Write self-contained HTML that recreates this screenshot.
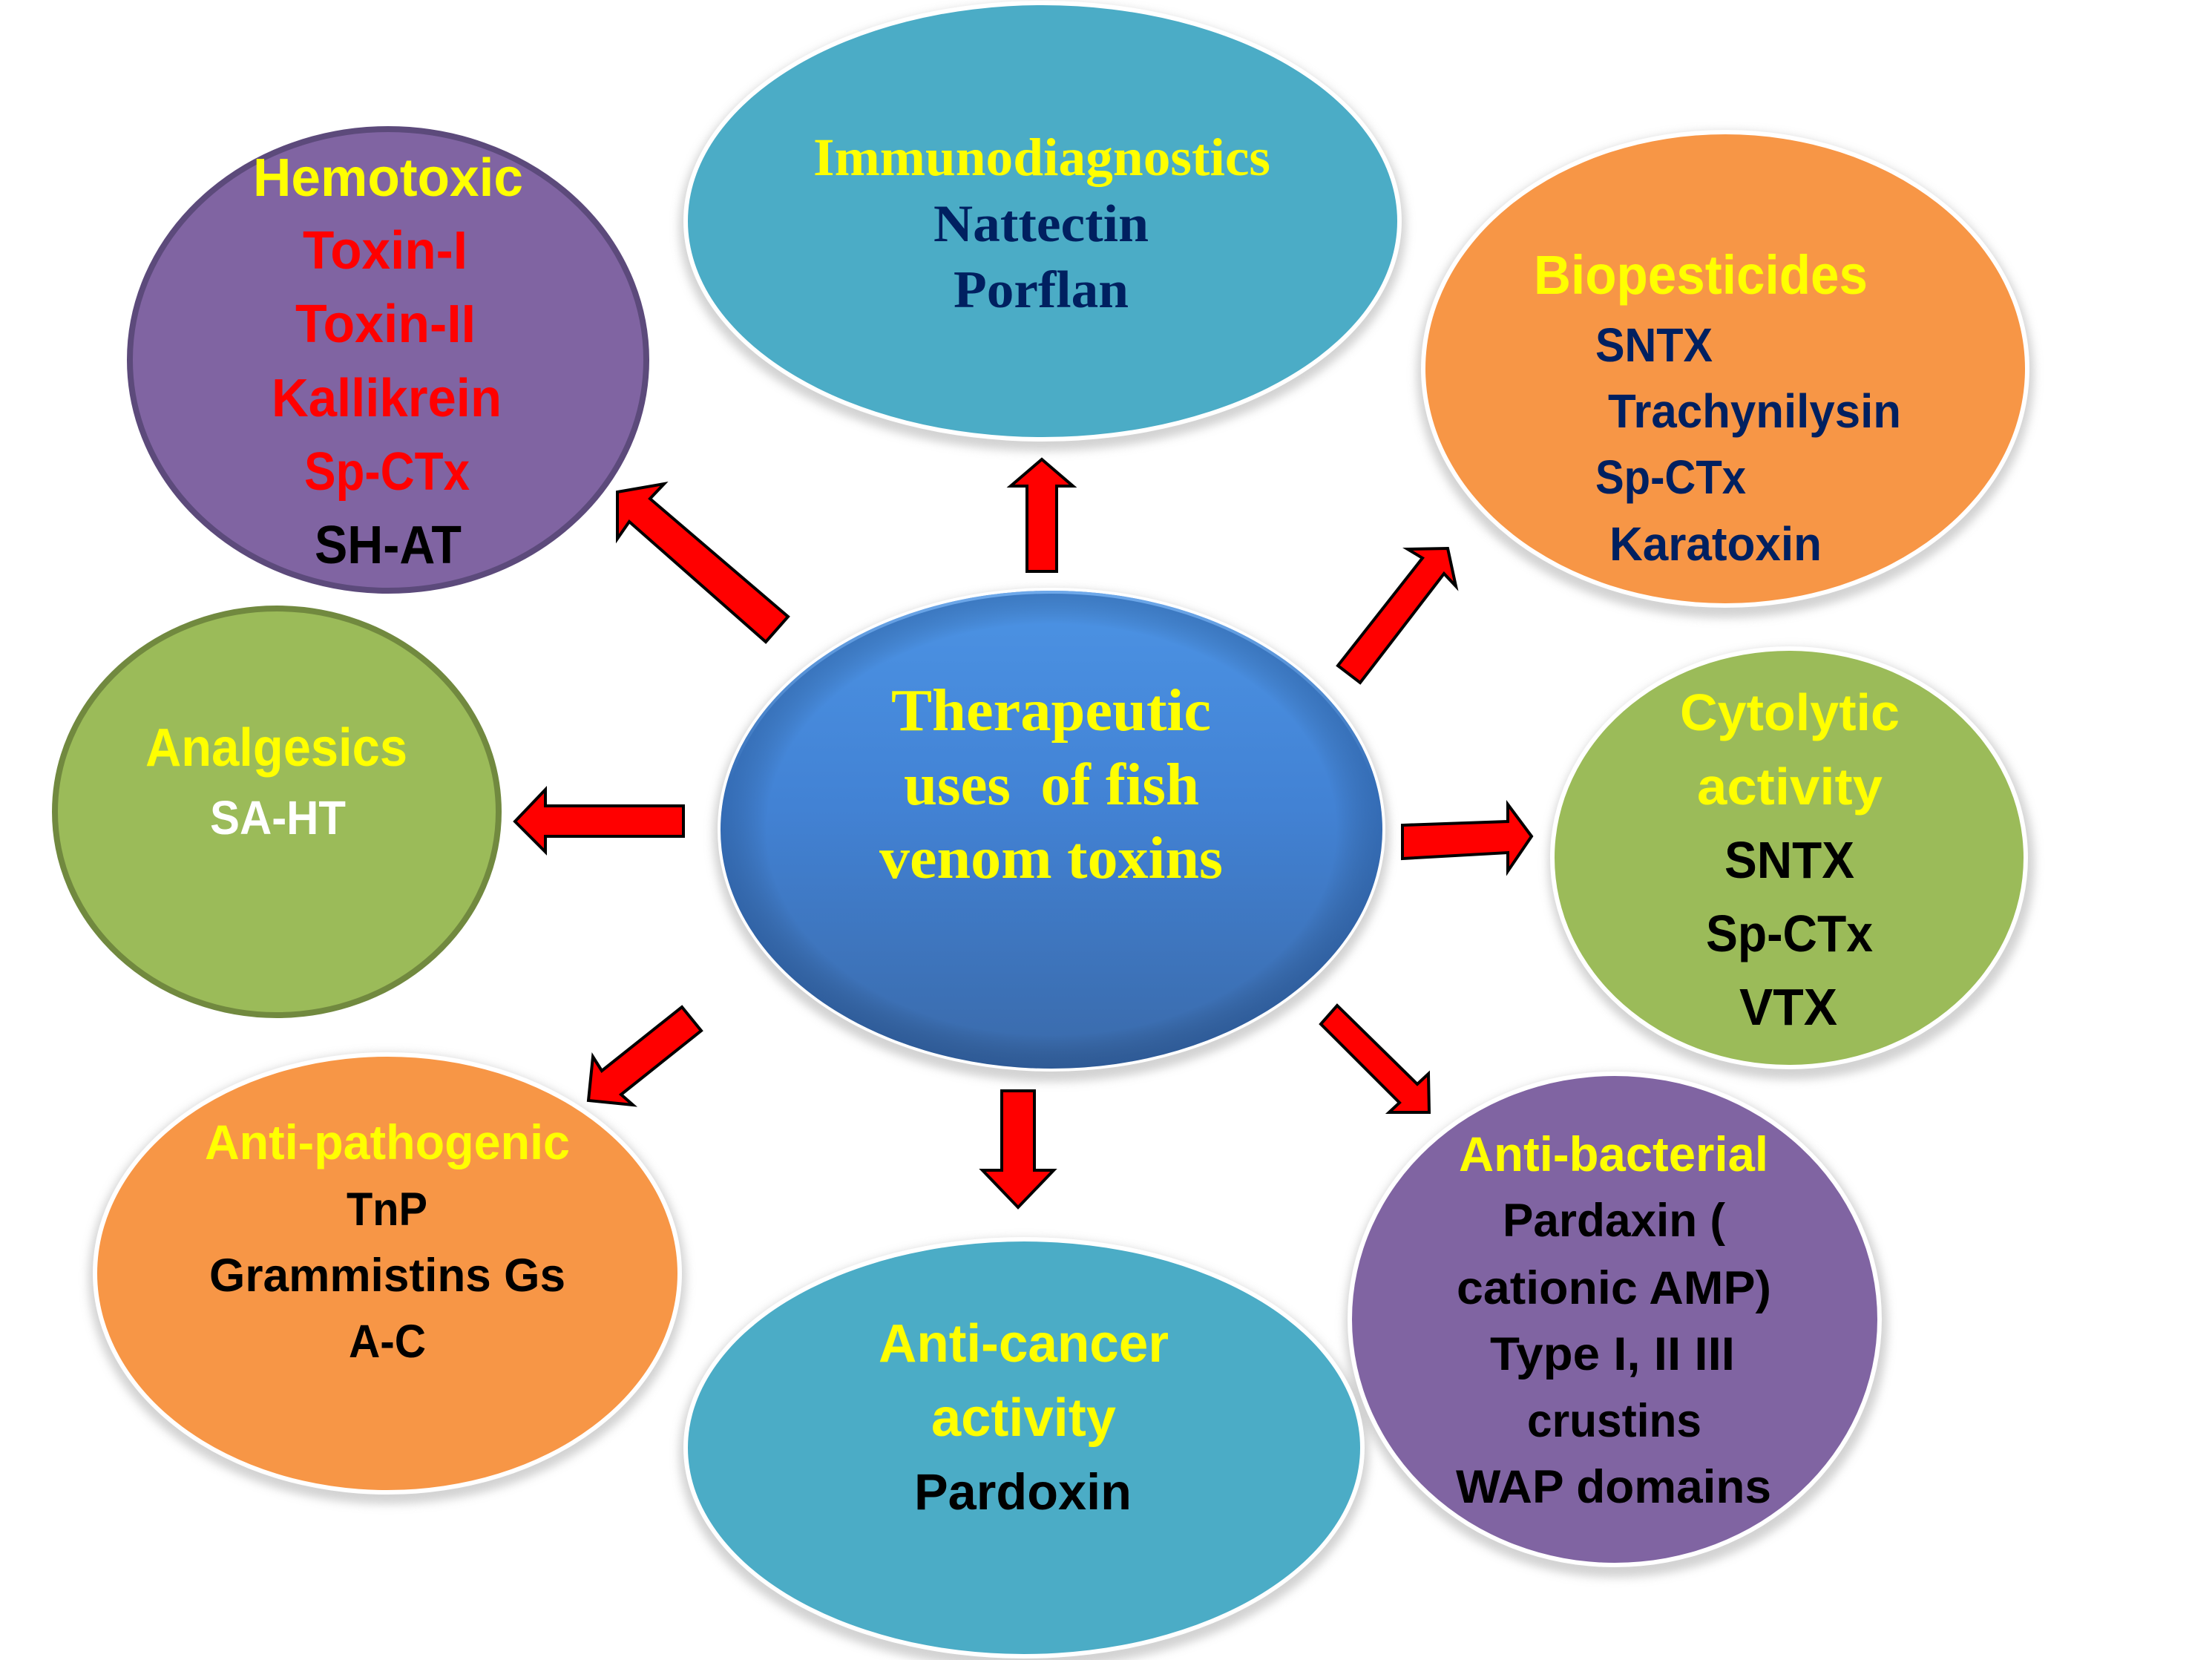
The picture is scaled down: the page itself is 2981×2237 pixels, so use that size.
<!DOCTYPE html>
<html>
<head>
<meta charset="utf-8">
<style>
  html, body { margin: 0; padding: 0; background: #ffffff; }
  svg { display: block; }
  .s { font-family: "Liberation Sans", "DejaVu Sans", sans-serif; font-weight: bold; }
  .t { font-family: "Liberation Serif", "DejaVu Serif", serif; font-weight: bold; }
</style>
</head>
<body>
<svg width="2981" height="2237" viewBox="0 0 2981 2237" xmlns="http://www.w3.org/2000/svg">
  <defs>
    <filter id="blur" x="-20%" y="-20%" width="140%" height="140%">
      <feGaussianBlur stdDeviation="6"/>
    </filter>
    <linearGradient id="cg" x1="0" y1="0" x2="0" y2="1">
      <stop offset="0" stop-color="#4c93e4"/>
      <stop offset="0.45" stop-color="#4282d4"/>
      <stop offset="1" stop-color="#3a6aaa"/>
    </linearGradient>
    <radialGradient id="cedge" cx="0.5" cy="0.5" r="0.5">
      <stop offset="0.86" stop-color="#000" stop-opacity="0"/>
      <stop offset="1" stop-color="#0a2a5a" stop-opacity="0.25"/>
    </radialGradient>
    <linearGradient id="rim" x1="0" y1="0" x2="0" y2="1">
      <stop offset="0" stop-color="#7ab4f4" stop-opacity="0.8"/>
      <stop offset="0.4" stop-color="#7ab4f4" stop-opacity="0"/>
      <stop offset="1" stop-color="#7ab4f4" stop-opacity="0"/>
    </linearGradient>
  </defs>

  <rect width="2981" height="2237" fill="#ffffff"/>

  <!-- Shadows -->
  <g fill="#c4c4c4" opacity="0.75" filter="url(#blur)">
    <ellipse cx="1405" cy="306" rx="490" ry="302"/>
    <ellipse cx="2325" cy="505" rx="416" ry="328"/>
    <ellipse cx="2414" cy="1164" rx="328" ry="291"/>
    <ellipse cx="2178" cy="1786" rx="366" ry="340"/>
    <ellipse cx="1380" cy="1959" rx="465" ry="290"/>
    <ellipse cx="522" cy="1723" rx="403" ry="304"/>
    <ellipse cx="1417" cy="1126" rx="456" ry="332"/>
  </g>
  <!-- White rims -->
  <g fill="#ffffff">
    <ellipse cx="1405" cy="298" rx="484" ry="297"/>
    <ellipse cx="2325" cy="497" rx="410" ry="322"/>
    <ellipse cx="2411" cy="1156" rx="322" ry="285"/>
    <ellipse cx="2176" cy="1778" rx="360" ry="334"/>
    <ellipse cx="1380" cy="1951" rx="459" ry="284"/>
    <ellipse cx="522" cy="1716" rx="397" ry="298"/>
    <ellipse cx="1417" cy="1118" rx="450" ry="326"/>
  </g>

  <!-- Ellipses -->
  <ellipse cx="523" cy="485" rx="348" ry="311" fill="#8064a2" stroke="#5c4a7b" stroke-width="8"/>
  <ellipse cx="1405" cy="298" rx="478" ry="291" fill="#4bacc6"/>
  <ellipse cx="2325" cy="497" rx="404" ry="316" fill="#f79646"/>
  <ellipse cx="2411" cy="1156" rx="316" ry="279" fill="#9bbb59"/>
  <ellipse cx="2176" cy="1778" rx="354" ry="328" fill="#8064a2"/>
  <ellipse cx="1380" cy="1951" rx="453" ry="278" fill="#4bacc6"/>
  <ellipse cx="522" cy="1716" rx="391" ry="292" fill="#f79646"/>
  <ellipse cx="373" cy="1094" rx="299" ry="274" fill="#9bbb59" stroke="#71893f" stroke-width="8"/>

  <!-- Center -->
  <ellipse cx="1417" cy="1118" rx="446" ry="322" fill="url(#cg)"/>
  <ellipse cx="1417" cy="1118" rx="446" ry="322" fill="url(#cedge)"/>
  <ellipse cx="1417" cy="1116" rx="443" ry="318" fill="none" stroke="url(#rim)" stroke-width="4"/>

  <!-- Arrows -->
  <g fill="#ff0000" stroke="#000000" stroke-width="4" stroke-linejoin="miter">
    <polygon points="1404,619 1446,655 1424,655 1424,770 1384,770 1384,655 1362,655"/>
    <polygon points="694,1107 735,1064 735,1086 921,1086 921,1127 735,1127 735,1148"/>
    <polygon points="2064,1127 2032,1084 2032,1107 1890,1112 1890,1157 2032,1149 2032,1174"/>
    <polygon points="1350,1470 1394,1470 1394,1577 1420,1577 1372,1627 1324,1577 1350,1577"/>
    <polygon points="832,663 895,652 876,672 1062,831 1032,865 848,703 832,726"/>
    <polygon points="1951,739 1962,790 1946,773 1833,920 1803,897 1917,752 1897,740"/>
    <polygon points="793,1483 799,1424 811,1443 919,1357 945,1389 837,1475 853,1489"/>
    <polygon points="1926,1499 1872,1499 1886,1486 1780,1380 1802,1355 1910,1461 1925,1447"/>
  </g>

  <!-- Hemotoxic -->
  <g class="s" font-size="72">
    <text x="341" y="264" textLength="364" lengthAdjust="spacingAndGlyphs" fill="#ffff00">Hemotoxic</text>
    <text x="408" y="362" textLength="222" lengthAdjust="spacingAndGlyphs" fill="#ff0000">Toxin-I</text>
    <text x="398" y="461" textLength="243" lengthAdjust="spacingAndGlyphs" fill="#ff0000">Toxin-II</text>
    <text x="366" y="561" textLength="310" lengthAdjust="spacingAndGlyphs" fill="#ff0000">Kallikrein</text>
    <text x="410" y="660" textLength="223" lengthAdjust="spacingAndGlyphs" fill="#ff0000">Sp-CTx</text>
    <text x="424" y="759" textLength="198" lengthAdjust="spacingAndGlyphs" fill="#000000">SH-AT</text>
  </g>

  <!-- Immunodiagnostics -->
  <g class="t">
    <text x="1096" y="236" font-size="72" textLength="616" lengthAdjust="spacingAndGlyphs" fill="#ffff00">Immunodiagnostics</text>
    <text x="1258" y="325" font-size="71" textLength="290" lengthAdjust="spacingAndGlyphs" fill="#002060">Nattectin</text>
    <text x="1285" y="414" font-size="71" textLength="236" lengthAdjust="spacingAndGlyphs" fill="#002060">Porflan</text>
  </g>

  <!-- Biopesticides -->
  <g class="s">
    <text x="2067" y="396" font-size="74" textLength="450" lengthAdjust="spacingAndGlyphs" fill="#ffff00">Biopesticides</text>
    <text x="2150" y="487" font-size="64" textLength="158" lengthAdjust="spacingAndGlyphs" fill="#002060">SNTX</text>
    <text x="2167" y="576" font-size="64" textLength="395" lengthAdjust="spacingAndGlyphs" fill="#002060">Trachynilysin</text>
    <text x="2150" y="665" font-size="64" textLength="203" lengthAdjust="spacingAndGlyphs" fill="#002060">Sp-CTx</text>
    <text x="2169" y="755" font-size="64" textLength="286" lengthAdjust="spacingAndGlyphs" fill="#002060">Karatoxin</text>
  </g>

  <!-- Cytolytic -->
  <g class="s" font-size="70">
    <text x="2264" y="984" textLength="296" lengthAdjust="spacingAndGlyphs" fill="#ffff00">Cytolytic</text>
    <text x="2287" y="1084" textLength="250" lengthAdjust="spacingAndGlyphs" fill="#ffff00">activity</text>
    <text x="2324" y="1183" textLength="175" lengthAdjust="spacingAndGlyphs" fill="#000000">SNTX</text>
    <text x="2299" y="1282" textLength="225" lengthAdjust="spacingAndGlyphs" fill="#000000">Sp-CTx</text>
    <text x="2344" y="1381" textLength="132" lengthAdjust="spacingAndGlyphs" fill="#000000">VTX</text>
  </g>

  <!-- Center text -->
  <g class="t" font-size="80" fill="#ffff00">
    <text x="1201" y="984" textLength="431" lengthAdjust="spacingAndGlyphs">Therapeutic</text>
    <text x="1218" y="1084" textLength="398" lengthAdjust="spacingAndGlyphs" style="white-space:pre" xml:space="preserve">uses  of fish</text>
    <text x="1185" y="1183" textLength="463" lengthAdjust="spacingAndGlyphs">venom toxins</text>
  </g>

  <!-- Analgesics -->
  <g class="s">
    <text x="196" y="1032" font-size="72" textLength="353" lengthAdjust="spacingAndGlyphs" fill="#ffff00">Analgesics</text>
    <text x="283" y="1124" font-size="64" textLength="183" lengthAdjust="spacingAndGlyphs" fill="#ffffff">SA-HT</text>
  </g>

  <!-- Anti-pathogenic -->
  <g class="s">
    <text x="276" y="1562" font-size="66" textLength="492" lengthAdjust="spacingAndGlyphs" fill="#ffff00">Anti-pathogenic</text>
    <text x="467" y="1651" font-size="63" textLength="109" lengthAdjust="spacingAndGlyphs" fill="#000000">TnP</text>
    <text x="282" y="1740" font-size="63" textLength="480" lengthAdjust="spacingAndGlyphs" fill="#000000">Grammistins Gs</text>
    <text x="470" y="1829" font-size="63" textLength="104" lengthAdjust="spacingAndGlyphs" fill="#000000">A-C</text>
  </g>

  <!-- Anti-cancer -->
  <g class="s">
    <text x="1184" y="1835" font-size="72" textLength="391" lengthAdjust="spacingAndGlyphs" fill="#ffff00">Anti-cancer</text>
    <text x="1255" y="1935" font-size="72" textLength="249" lengthAdjust="spacingAndGlyphs" fill="#ffff00">activity</text>
    <text x="1232" y="2034" font-size="69" textLength="293" lengthAdjust="spacingAndGlyphs" fill="#000000">Pardoxin</text>
  </g>

  <!-- Anti-bacterial -->
  <g class="s">
    <text x="1966" y="1578" font-size="66" textLength="417" lengthAdjust="spacingAndGlyphs" fill="#ffff00">Anti-bacterial</text>
    <text x="2025" y="1666" font-size="63" textLength="300" lengthAdjust="spacingAndGlyphs" fill="#000000">Pardaxin (</text>
    <text x="1963" y="1757" font-size="63" textLength="424" lengthAdjust="spacingAndGlyphs" fill="#000000">cationic AMP)</text>
    <text x="2008" y="1846" font-size="63" textLength="330" lengthAdjust="spacingAndGlyphs" fill="#000000">Type I, II III</text>
    <text x="2058" y="1936" font-size="63" textLength="235" lengthAdjust="spacingAndGlyphs" fill="#000000">crustins</text>
    <text x="1962" y="2025" font-size="63" textLength="425" lengthAdjust="spacingAndGlyphs" fill="#000000">WAP domains</text>
  </g>
</svg>
</body>
</html>
